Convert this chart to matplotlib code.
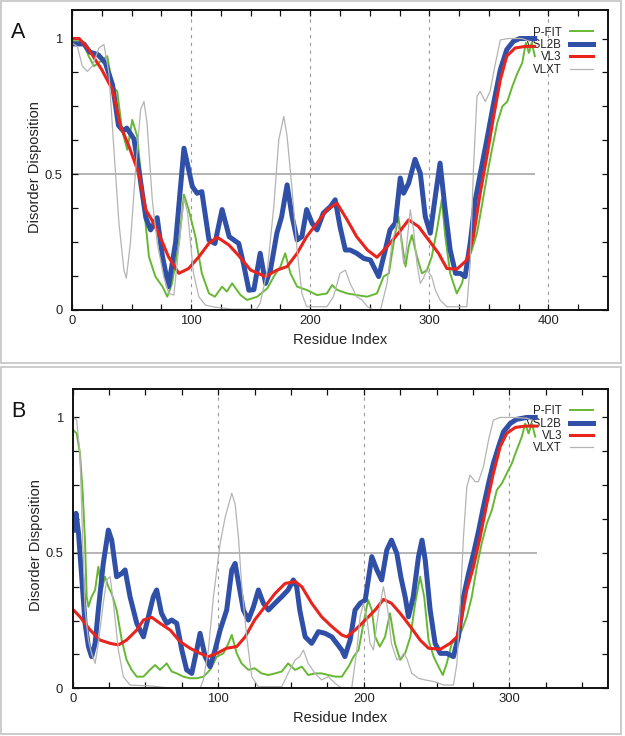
import numpy as np
import matplotlib.pyplot as plt
from matplotlib.patches import Rectangle

plt.rcParams['font.family'] = ['Liberation Sans', 'DejaVu Sans']

# predictor order, colours and line widths
predictors = ['P-FIT', 'VSL2B', 'VL3', 'VLXT']
colors = {'P-FIT': '#66b832', 'VSL2B': '#3050a8', 'VL3': '#e8241c', 'VLXT': '#b4b4b4'}
widths = {'P-FIT': 1.4, 'VSL2B': 3.6, 'VL3': 2.2, 'VLXT': 0.9}

# ---- panel A (residue, disorder score) ----
a_len = 389
a_pfit = [(0, 0.99), (8.7, 0.99), (14, 0.935), (18.4, 0.898), (24, 0.916), (29.6, 0.935), (34, 0.824),
          (38, 0.805), (42, 0.664), (46.4, 0.59), (50.6, 0.7), (54.8, 0.639), (59, 0.443), (64.6, 0.196),
          (70, 0.123), (76, 0.086), (80, 0.049), (84, 0.098), (89.7, 0.246), (94, 0.425), (98, 0.369),
          (103.6, 0.27), (109, 0.135), (115, 0.061), (120, 0.049), (126, 0.086), (130, 0.068), (134.4, 0.098),
          (141.5, 0.055), (147, 0.037), (155.5, 0.049), (164, 0.08), (169.4, 0.123), (175, 0.16), (179, 0.209),
          (183.4, 0.135), (189, 0.086), (197, 0.074), (205.7, 0.055), (214, 0.061), (218.4, 0.092),
          (222.6, 0.074), (231, 0.061), (239, 0.055), (247.8, 0.049), (256, 0.061), (261.6, 0.123),
          (266, 0.135), (270, 0.246), (274, 0.344), (277, 0.246), (280, 0.16), (282.6, 0.233), (285.4, 0.276),
          (289.6, 0.196), (293.8, 0.135), (298, 0.147), (302, 0.196), (306.4, 0.295), (310.5, 0.406),
          (313.4, 0.27), (317.5, 0.135), (323, 0.061), (327.4, 0.098), (331.5, 0.172), (335.7, 0.221),
          (340, 0.283), (344, 0.381), (348.3, 0.492), (352.5, 0.59), (357, 0.689), (361.3, 0.75),
          (365.5, 0.768), (369.7, 0.824), (374, 0.873), (378, 0.91), (381, 0.984), (383.6, 0.947),
          (386, 0.984), (388.6, 0.935)]
a_vsl2b = [(0, 0.98), (10, 0.98), (15, 0.95), (22, 0.94), (28, 0.91), (34, 0.83), (39, 0.68), (43, 0.66),
           (46, 0.67), (52, 0.63), (56, 0.52), (62, 0.34), (66, 0.295), (71.5, 0.34), (76, 0.196), (81, 0.086),
           (87, 0.25), (94, 0.596), (98, 0.516), (101, 0.455), (105, 0.43), (109, 0.436), (115, 0.258),
           (120, 0.245), (126, 0.37), (132, 0.27), (140, 0.245), (144, 0.17), (148.5, 0.073), (152.7, 0.075),
           (158, 0.209), (162.5, 0.098), (166.6, 0.147), (172, 0.283), (176, 0.344), (180.6, 0.461),
           (184.8, 0.344), (189, 0.258), (193, 0.27), (197, 0.37), (201.5, 0.32), (205.7, 0.295), (211, 0.357),
           (217, 0.381), (221, 0.406), (225, 0.307), (229.5, 0.221), (233.5, 0.221), (239, 0.209), (245, 0.19),
           (250.5, 0.184), (257.5, 0.123), (263, 0.221), (267, 0.295), (271.4, 0.32), (275.6, 0.486),
           (278.4, 0.43), (282.6, 0.467), (288, 0.555), (292.4, 0.504), (296.6, 0.344), (300.8, 0.283),
           (305, 0.418), (309, 0.541), (313, 0.381), (317.5, 0.221), (322, 0.135), (326, 0.135), (330, 0.123),
           (334.3, 0.246), (338.6, 0.406), (342.7, 0.5), (348.3, 0.627), (354, 0.762), (359.6, 0.885),
           (365, 0.959), (370.6, 0.99), (376, 1.0), (383, 1.0), (388.5, 1.0)]
a_vl3 = [(0, 1.0), (6, 1.0), (14, 0.96), (25, 0.885), (34, 0.811), (40.8, 0.677), (47.8, 0.603), (56, 0.504),
         (62, 0.369), (67, 0.332), (74, 0.27), (81, 0.196), (89.7, 0.135), (98, 0.153), (106.5, 0.196),
         (115, 0.246), (122, 0.268), (131.6, 0.24), (140, 0.2), (150, 0.147), (162.5, 0.123), (172, 0.147),
         (180.6, 0.16), (189, 0.209), (197, 0.27), (205.7, 0.32), (214, 0.369), (222.5, 0.393), (231, 0.332),
         (239, 0.27), (248, 0.221), (256, 0.194), (264.5, 0.233), (274, 0.283), (282.6, 0.332), (291, 0.307),
         (299.4, 0.258), (307.7, 0.209), (314.7, 0.153), (323, 0.15), (331.5, 0.184), (337, 0.27),
         (342.7, 0.43), (348.3, 0.566), (354, 0.713), (359.6, 0.848), (365, 0.935), (372, 0.965),
         (380.6, 0.971), (388.5, 0.971)]
a_vlxt = [(0, 0.984), (4.5, 0.97), (8.7, 0.898), (12.9, 0.879), (17, 0.898), (22.6, 0.965), (26.8, 0.978),
          (31, 0.873), (35, 0.603), (39.4, 0.32), (43.6, 0.147), (45.6, 0.117), (49, 0.246), (53.4, 0.516),
          (57.6, 0.738), (60.4, 0.768), (63, 0.689), (67.4, 0.406), (71.6, 0.246), (77, 0.123), (81.3, 0.061),
          (85.5, 0.055), (89.7, 0.233), (94, 0.41), (97, 0.36), (102, 0.135), (106.5, 0.049), (112, 0.018),
          (120.5, 0.01), (135, 0.003), (155, 0.003), (158, 0.025), (164, 0.147), (169.4, 0.381),
          (173.6, 0.627), (177.8, 0.713), (180.6, 0.639), (184.8, 0.443), (189, 0.221), (193, 0.061),
          (197, 0.012), (214, 0.012), (219.5, 0.049), (225, 0.135), (229.5, 0.147), (233.5, 0.098),
          (239, 0.049), (243.5, 0.037), (248, 0.012), (253, 0.0), (259, 0.0), (264.5, 0.098), (268.6, 0.246),
          (272.8, 0.32), (275.6, 0.283), (278.4, 0.172), (280, 0.196), (284, 0.369), (286.8, 0.295),
          (289.6, 0.172), (292.4, 0.098), (295, 0.117), (298, 0.147), (302, 0.123), (305, 0.074),
          (309, 0.037), (314.7, 0.012), (331.5, 0.012), (334.3, 0.172), (337, 0.516), (340, 0.787),
          (342.7, 0.805), (347, 0.768), (351, 0.805), (355, 0.898), (359.6, 0.995), (366.6, 1.0),
          (377.6, 1.0), (384, 0.99)]

# ---- panel B ----
b_len = 319
b_pfit = [(0.5, 0.953), (2.7, 0.941), (5, 0.867), (6.9, 0.72), (8.5, 0.535), (9.6, 0.338), (10.8, 0.301),
          (13, 0.338), (15.4, 0.363), (17.6, 0.449), (20, 0.363), (22.2, 0.412), (24.5, 0.375), (26.8, 0.35),
          (30.2, 0.289), (33.7, 0.178), (37, 0.105), (40.5, 0.068), (44, 0.043), (48.6, 0.043), (53, 0.068),
          (56.6, 0.086), (60, 0.068), (64.6, 0.092), (68, 0.062), (71.5, 0.055), (76, 0.043), (80.6, 0.037),
          (85.2, 0.037), (89.8, 0.043), (94.4, 0.068), (99, 0.117), (103.5, 0.129), (107, 0.166),
          (109.3, 0.197), (112.7, 0.129), (116, 0.092), (120.7, 0.068), (125, 0.074), (129.8, 0.055),
          (134.5, 0.049), (139, 0.055), (143.6, 0.062), (148, 0.092), (152.8, 0.068), (157.4, 0.08),
          (161.8, 0.049), (166.5, 0.055), (171, 0.055), (175.7, 0.049), (180.3, 0.043), (184.9, 0.043),
          (189.5, 0.08), (193, 0.117), (196.4, 0.141), (199.8, 0.24), (203, 0.326), (205.5, 0.289),
          (207.8, 0.19), (211, 0.154), (214.6, 0.19), (218, 0.277), (221.4, 0.166), (225, 0.105),
          (228.4, 0.129), (232, 0.19), (235.3, 0.314), (238.7, 0.412), (241.5, 0.338), (244.5, 0.178),
          (248, 0.117), (251.3, 0.08), (254.3, 0.049), (257, 0.092), (260.5, 0.166), (264, 0.178),
          (267.4, 0.215), (270.8, 0.264), (274.2, 0.338), (277.7, 0.449), (281, 0.535), (284.6, 0.609),
          (288, 0.658), (291.4, 0.732), (294.8, 0.756), (298.2, 0.793), (301.7, 0.83), (305, 0.879),
          (308.6, 0.929), (310.9, 0.978), (313.2, 0.941), (315.5, 0.978), (317.8, 0.929)]
b_vsl2b = [(0.5, 0.584), (2.3, 0.646), (4, 0.572), (6.2, 0.412), (8.5, 0.24), (10.8, 0.154), (13, 0.117),
           (15.4, 0.166), (17.6, 0.289), (21, 0.461), (24.5, 0.584), (26.8, 0.547), (30.2, 0.412),
           (33.7, 0.424), (36, 0.437), (39.4, 0.338), (44, 0.24), (48.6, 0.19), (52, 0.264), (55.4, 0.338),
           (57.7, 0.363), (61, 0.277), (64.6, 0.24), (68, 0.252), (71.5, 0.24), (75, 0.141), (78.3, 0.068),
           (81.8, 0.055), (85.2, 0.141), (87.5, 0.203), (91, 0.117), (94.4, 0.08), (97.8, 0.141),
           (101.3, 0.215), (105.8, 0.289), (109.3, 0.437), (111.6, 0.461), (114, 0.387), (117.3, 0.289),
           (120.7, 0.252), (124.2, 0.301), (127.6, 0.363), (131, 0.314), (134.5, 0.289), (139, 0.314),
           (143.6, 0.338), (148, 0.363), (151.6, 0.4), (153.9, 0.375), (156, 0.289), (159.7, 0.19),
           (164.2, 0.166), (168.8, 0.209), (173.4, 0.203), (178, 0.19), (181.4, 0.166), (184.9, 0.141),
           (187, 0.117), (190.6, 0.178), (194, 0.289), (197.5, 0.314), (201, 0.326), (205.5, 0.486),
           (209, 0.437), (212.3, 0.4), (215.8, 0.51), (219, 0.547), (222.7, 0.498), (225.5, 0.41),
           (228.4, 0.338), (230.7, 0.264), (234, 0.338), (237.6, 0.486), (240, 0.547), (242.2, 0.474),
           (245.6, 0.289), (249, 0.166), (252.5, 0.129), (257, 0.129), (261.6, 0.117), (265, 0.19),
           (268.5, 0.338), (272, 0.424), (275.4, 0.498), (279, 0.584), (282.2, 0.67), (285.7, 0.756),
           (289, 0.83), (292.6, 0.892), (296, 0.947), (300.6, 0.978), (305, 0.993), (312, 1.0), (317.8, 1.0)]
b_vl3 = [(0.5, 0.289), (5, 0.264), (12, 0.215), (18.8, 0.178), (25.7, 0.166), (31.4, 0.16), (37, 0.178),
         (44, 0.215), (48.6, 0.252), (54.3, 0.262), (60, 0.24), (67, 0.215), (73.8, 0.172), (80.6, 0.148),
         (87.5, 0.129), (93.2, 0.117), (99, 0.129), (105.8, 0.148), (112.7, 0.154), (118.5, 0.19),
         (125, 0.252), (132, 0.301), (139, 0.35), (145.9, 0.387), (153, 0.394), (157.4, 0.375),
         (164.2, 0.314), (171, 0.264), (178, 0.228), (184.9, 0.197), (188.3, 0.19), (194, 0.215),
         (201, 0.252), (207.8, 0.289), (213.5, 0.328), (219, 0.314), (225, 0.277), (232, 0.228),
         (238.7, 0.178), (244.5, 0.148), (252.5, 0.144), (259.3, 0.166), (264, 0.19), (267.4, 0.264),
         (270.8, 0.363), (275.4, 0.449), (280, 0.56), (284.6, 0.683), (289, 0.793), (293.7, 0.892),
         (298.2, 0.941), (304, 0.963), (310.9, 0.968), (318.9, 0.968)]
b_vlxt = [(0.5, 1.0), (2.7, 0.99), (5, 0.867), (6.9, 0.535), (8.5, 0.289), (10.8, 0.178), (13, 0.129),
          (15.4, 0.092), (17.6, 0.166), (21, 0.314), (23.4, 0.4), (25.7, 0.412), (28, 0.314), (31.4, 0.141),
          (34.8, 0.043), (39.4, 0.012), (55.4, 0.008), (67, 0.0), (87.5, 0.0), (89.8, 0.031), (93.2, 0.141),
          (96.7, 0.338), (101.3, 0.535), (104.8, 0.633), (109.3, 0.72), (111.6, 0.68), (114, 0.55),
          (116, 0.387), (119.6, 0.19), (123, 0.043), (127.6, 0.006), (143.6, 0.006), (148, 0.055),
          (152.8, 0.105), (156, 0.117), (158.5, 0.141), (161.8, 0.092), (166.5, 0.055), (171, 0.031),
          (175.7, 0.043), (180.3, 0.018), (184.9, 0.0), (191.7, 0.0), (195.2, 0.141), (197.5, 0.264),
          (199.8, 0.314), (202, 0.264), (204.3, 0.166), (206.6, 0.141), (210, 0.277), (213.5, 0.375),
          (216.5, 0.289), (219, 0.166), (222.7, 0.105), (226, 0.117), (227.3, 0.129), (229.5, 0.111),
          (233, 0.055), (237.6, 0.037), (242, 0.031), (248, 0.025), (255, 0.012), (261.6, 0.012),
          (264, 0.092), (266.3, 0.314), (268.5, 0.56), (270.8, 0.744), (273, 0.787), (276.5, 0.763),
          (278.8, 0.763), (282.2, 0.818), (285.7, 0.916), (289, 0.99), (293.7, 1.0), (302.8, 1.0),
          (312, 0.997), (315.5, 0.99)]

panels = [
    dict(label='A', series=[a_pfit, a_vsl2b, a_vl3, a_vlxt], length=a_len, xmax=450,
         box=(72, 10, 608, 310), frame=(1, 1, 621, 363), grid=[100, 200, 300, 400]),
    dict(label='B', series=[b_pfit, b_vsl2b, b_vl3, b_vlxt], length=b_len, xmax=368,
         box=(72.7, 389, 608.3, 688.3), frame=(1, 367, 621, 734), grid=[100, 200, 300]),
]

W, H = 625, 736
fig = plt.figure(figsize=(W / 100, H / 100), dpi=100)
txt = '#222222'

for p in panels:
    l, t, r, b = p['box']
    ax = fig.add_axes([l / W, 1 - b / H, (r - l) / W, (b - t) / H])

    for g in p['grid']:
        ax.axvline(g, color='#9a9a9a', lw=0.8, ls=(0, (3, 4)), zorder=1)
    ax.hlines(0.5, 0, p['length'], color='#a8a8a8', lw=1.2, zorder=1)

    for name, pts in zip(predictors, p['series']):
        xs, ys = np.array(pts).T
        ax.plot(xs, ys, color=colors[name], lw=widths[name], label=name,
                solid_joinstyle='round', zorder=2)

    ax.set_xlim(0, p['xmax'])
    ax.set_ylim(0, 1.105)
    ax.set_xticks(np.arange(0, p['xmax'], 100))
    ax.set_xticks(np.arange(0, p['xmax'], 25), minor=True)
    ax.set_yticks([0, 0.5, 1])
    ax.set_yticklabels(['0', '0.5', '1'])
    ax.set_yticks(np.arange(0, 1.01, 0.125), minor=True)
    ax.tick_params(which='both', direction='in', top=True, right=True, length=4, width=0.9,
                   colors='#111111', labelcolor=txt, labelsize=9.4)
    ax.tick_params(axis='x', pad=3.5)
    ax.tick_params(axis='y', pad=7)
    for s in ax.spines.values():
        s.set_linewidth(1.4)
        s.set_color('#111111')

    ax.set_xlabel('Residue Index', fontsize=10.5, color=txt)
    ax.set_ylabel('Disorder Disposition', fontsize=10.5, color=txt)
    ax.xaxis.set_label_coords(0.5, -0.075)
    ax.yaxis.set_label_coords(-0.056, 0.477)

    leg = ax.legend(loc='upper right', bbox_to_anchor=(0.972, 0.945), frameon=False, markerfirst=False,
                    fontsize=8.3, handlelength=2.0, handletextpad=0.7, labelspacing=0.03,
                    borderpad=0, borderaxespad=0)
    for tx in leg.get_texts():
        tx.set_color(txt)
    leg.set_zorder(1.5)

    fl, ft, fr, fb = p['frame']
    fig.add_artist(Rectangle((fl / W, 1 - fb / H), (fr - fl) / W, (fb - ft) / H,
                             transform=fig.transFigure, fill=False, ec='#c8c8c8', lw=1.3))
    fig.text(11 / W, 1 - (t + 28) / H, p['label'], fontsize=15.5, color='#111111', va='baseline')

fig.savefig('out.png', dpi=100)
